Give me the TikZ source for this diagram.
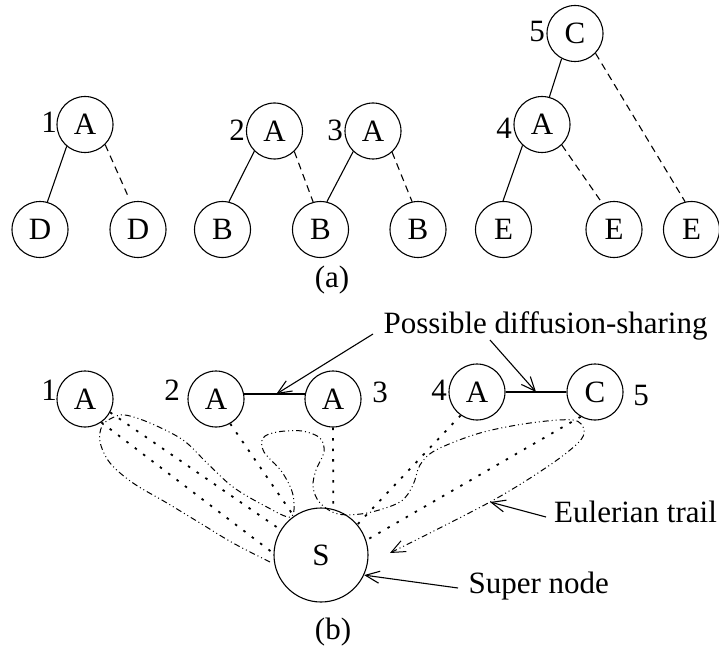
\documentclass[tikz,border=0pt]{standalone}
\usepackage{fontspec}
\setmainfont{Liberation Serif}
\usetikzlibrary{arrows.meta}

\begin{document}
\begin{tikzpicture}[x=1pt, y=-1pt, font=\fontsize{31}{36}\selectfont]

    % Stili globali per nodi e linee
    \tikzset{
        nodo/.style={draw, circle, line width=1.1pt, minimum size=56pt, inner sep=0pt},
        supernodo/.style={nodo, minimum size=94pt},
        ramo/.style={line width=1.1pt},
        ramotratt/.style={ramo, dash pattern=on 7pt off 5pt},
        puntini/.style={line width=1.8pt, dash pattern=on 2.5pt off 8pt},
        traccia/.style={line width=1pt, dash pattern=on 6pt off 3pt on 1pt off 3pt on 1pt off 3pt},
        punta/.style={-{Straight Barb[length=14pt, width=12pt]}},
        freccia/.style={line width=1.1pt, punta}
    }

    % Dimensioni della figura
    \useasboundingbox (0,0) rectangle (719,647);

    % (a) Nodi degli alberi
    \node[nodo] (A1) at (85,124.5) {A};
    \node[nodo] (Dl) at (40,229.5) {D};
    \node[nodo] (Dr) at (138,229.5) {D};
    \node[nodo] (A2) at (274.5,131) {A};
    \node[nodo] (B1) at (222.5,229.5) {B};
    \node[nodo] (B2) at (320.5,229.5) {B};
    \node[nodo] (A3) at (373,131) {A};
    \node[nodo] (B3) at (418,229.5) {B};
    \node[nodo] (C5) at (575,33.5) {C};
    \node[nodo] (A4) at (542,124.5) {A};
    \node[nodo] (E1) at (503.5,229.5) {E};
    \node[nodo] (E2) at (614,229.5) {E};
    \node[nodo] (E3) at (691.5,229.5) {E};

    % (a) Numeri accanto ai nodi
    \node (n1) at (49,122) {1};
    \node (n2) at (237,130) {2};
    \node (n3) at (335,130) {3};
    \node (n4) at (504,128) {4};
    \node (n5) at (537,32) {5};

    % (a) Rami pieni e tratteggiati
    \draw[ramo] (A1.-130) -- (Dl.75);
    \draw[ramotratt, shorten >=8pt] (A1.-45) -- (Dr.105);
    \draw[ramo] (A2.-135) -- (B1.77);
    \draw[ramotratt] (A2.-46) -- (B2.105);
    \draw[ramo] (A3.-134) -- (B2.77);
    \draw[ramotratt] (A3.-48) -- (B3.102);
    \draw[ramo] (C5.-118) -- (A4.75);
    \draw[ramotratt] (C5.-44) -- (E3.103);
    \draw[ramo] (A4.-133) -- (E1.91);
    \draw[ramotratt] (A4.-46) -- (E2.114);

    \node (capa) at (332,280) {(a)};

    % (b) Nodi e super nodo
    \node[nodo] (Ab1) at (85,399) {A};
    \node[nodo] (Ab2) at (216,399) {A};
    \node[nodo] (Ab3) at (333,399) {A};
    \node[nodo] (Ab4) at (477,392) {A};
    \node[nodo] (Cb5) at (595,392) {C};
    \node[supernodo] (S) at (321,555) {S};

    % (b) Numeri accanto ai nodi
    \node (m1) at (49,390) {1};
    \node (m2) at (172,390) {2};
    \node (m3) at (380,392) {3};
    \node (m4) at (439,390) {4};
    \node (m5) at (641,395) {5};

    % (b) Lati di condivisione della diffusione
    \draw[ramo] (Ab2.10) -- coordinate[pos=0.53] (m23) (Ab3.170);
    \draw[ramo] (Ab4) -- coordinate[pos=0.5] (m45) (Cb5);

    % (b) Lati punteggiati verso il super nodo
    \draw[puntini] (Ab1.-28) -- (S.148);
    \draw[puntini] (Ab1.-55) -- (S.178);
    \draw[puntini] (Ab2.-60) -- (S.125);
    \draw[puntini] (Ab3.south) -- (S.75);
    \draw[puntini] (Ab4.-125) -- (S.40);
    \draw[puntini] (Cb5.-120) -- (S.18);

    % (b) Cammino euleriano
    \draw[traccia, punta] plot[smooth, tension=0.55] coordinates {
        (270,562) (233,543) (200,523) (167,503) (133,483) (110,463) (100,442)
        (102,426) (112,418) (125,415) (150,423) (183,440) (207,463) (233,487)
        (265,506) (291,517) (293,495) (282,472) (264,452) (263,438) (277,432)
        (302,431) (320,438) (324,452) (316,470) (313,487) (320,503) (338,514)
        (367,513) (400,502) (413,485) (420,465) (436,450) (480,433) (530,423)
        (573,420) (584,430) (578,443) (547,467) (490,502) (390,553)};
    \coordinate (tr) at (490,502);

    % (b) Didascalie con frecce
    \node[anchor=base west] (ds) at (380,333) {Possible diffusion-sharing};
    \coordinate (ds1) at (373,334);
    \coordinate (ds2) at (490,340);
    \draw[freccia] (ds1) -- (m23);
    \draw[freccia] (ds2) -- (m45);

    \node[anchor=base west, inner sep=1pt] (eul) at (553,522) {Eulerian trail};
    \coordinate (eul1) at (546,517);
    \draw[freccia] (eul1) -- (tr);

    \node[anchor=base west] (sup) at (465,593) {Super node};
    \coordinate (sup1) at (458,588);
    \draw[freccia] (sup1) -- (S.-25);

    \node (capb) at (333,632) {(b)};

\end{tikzpicture}
\end{document}
